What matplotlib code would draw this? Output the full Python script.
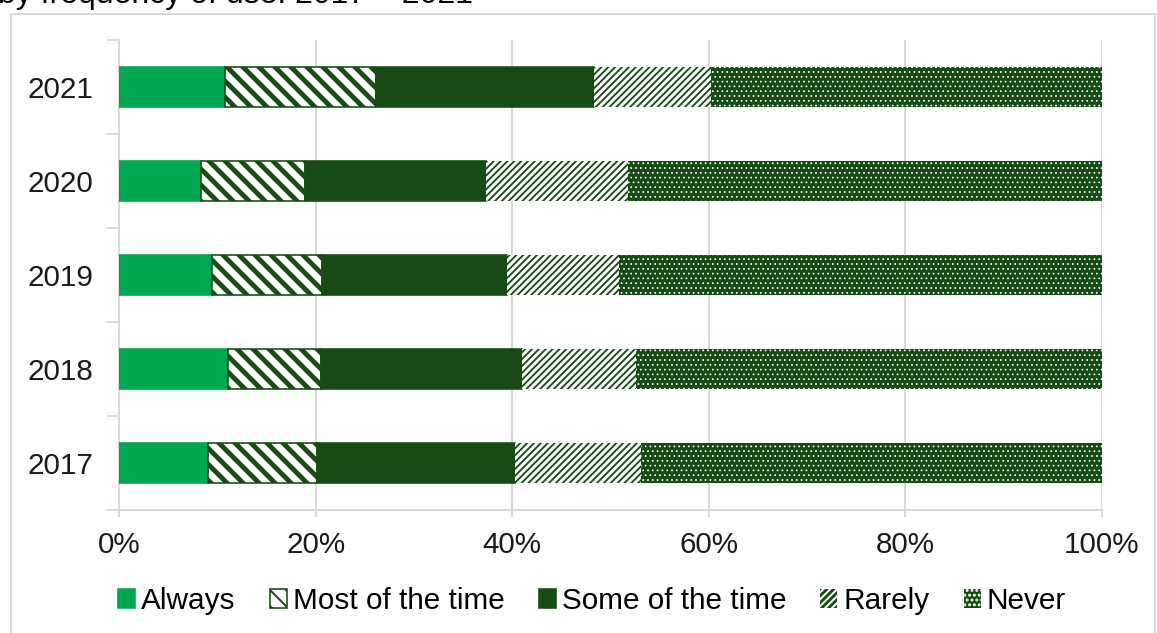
import matplotlib
matplotlib.use('Agg')
import matplotlib.pyplot as plt
from matplotlib.patches import Rectangle
from matplotlib.ticker import PercentFormatter

plt.rcParams['font.family'] = ['Liberation Sans', 'DejaVu Sans']

years = ['2017', '2018', '2019', '2020', '2021']
categories = ['Always', 'Most of the time', 'Some of the time', 'Rarely', 'Never']

# share of respondents (%) per year, bottom to top
always = [9.1, 11.1, 9.5, 8.3, 10.8]
most = [11.0, 9.4, 11.2, 10.6, 15.3]
some = [20.2, 20.5, 18.8, 18.4, 22.2]
rarely = [12.8, 11.6, 11.4, 14.5, 11.9]
never = [46.9, 47.4, 49.1, 48.2, 39.8]

light = '#00a650'
dark = '#164b14'
grey = '#d9d9d9'

# face, edge, hatch, hatch linewidth
styles = [
    (light, light, None, 1.0),
    ('white', dark, '\\\\\\', 2.4),
    (dark, dark, None, 1.0),
    (dark, 'white', '///////', 1.5),
    (dark, 'white', '.....', 0.45),
]

dpi = 144
fig = plt.figure(figsize=(1157 / dpi, 633 / dpi), dpi=dpi)

# outer chart frame
fig.patches.append(Rectangle((11 / 1157, -0.1), 1144 / 1157, 1.1 - 14 / 633,
                             transform=fig.transFigure, facecolor='none',
                             edgecolor=grey, linewidth=1.0))
fig.text(-2 / 1157, 1 - 3 / 633, 'by frequency of use: 2017 \u2013 2021',
         fontsize=16, ha='left', va='baseline')

ax = fig.add_axes([119 / 1157, 1 - 510 / 633, 983 / 1157, 470 / 633])

series = [always, most, some, rarely, never]
ypos = list(range(len(years)))
left = [0.0] * len(years)
for name, vals, (fc, ec, hatch, hlw) in zip(categories, series, styles):
    with plt.rc_context({'hatch.linewidth': hlw}):
        bars = ax.barh(ypos, vals, left=left, height=0.43, color=fc,
                       edgecolor=ec, hatch=hatch,
                       linewidth=0.8 if ec != 'white' else 0,
                       label=name, zorder=3)
    for b in bars:
        if hasattr(b, 'set_hatch_linewidth'):
            b.set_hatch_linewidth(hlw)
    left = [l + v for l, v in zip(left, vals)]

ax.set_xlim(0, 100)
ax.set_ylim(-0.5, len(years) - 0.5)
ax.set_xticks([0, 20, 40, 60, 80, 100])
ax.xaxis.set_major_formatter(PercentFormatter(decimals=0))
ax.set_yticks(ypos)
ax.set_yticklabels(years)
ax.set_yticks([i - 0.5 for i in range(len(years) + 1)], minor=True)

ax.grid(axis='x', color=grey, linewidth=1.0, zorder=0)
for s in ['top', 'right']:
    ax.spines[s].set_visible(False)
for s in ['left', 'bottom']:
    ax.spines[s].set_color(grey)
    ax.spines[s].set_linewidth(1.0)

ax.tick_params(axis='x', length=3.5, width=1.0, color=grey, pad=7,
               labelsize=14.8, labelcolor='#1a1a1a')
ax.tick_params(axis='y', which='major', length=0, pad=13,
               labelsize=14.8, labelcolor='#1a1a1a')
ax.tick_params(axis='y', which='minor', length=6, width=1.0, color=grey)

fig.legend(loc='center', bbox_to_anchor=(592 / 1157, 1 - 601 / 633), ncol=5,
           frameon=False, fontsize=14.9, handlelength=0.57, handleheight=0.57,
           handletextpad=0.2, columnspacing=1.15, borderaxespad=0)

fig.savefig('out.png', dpi=dpi)
